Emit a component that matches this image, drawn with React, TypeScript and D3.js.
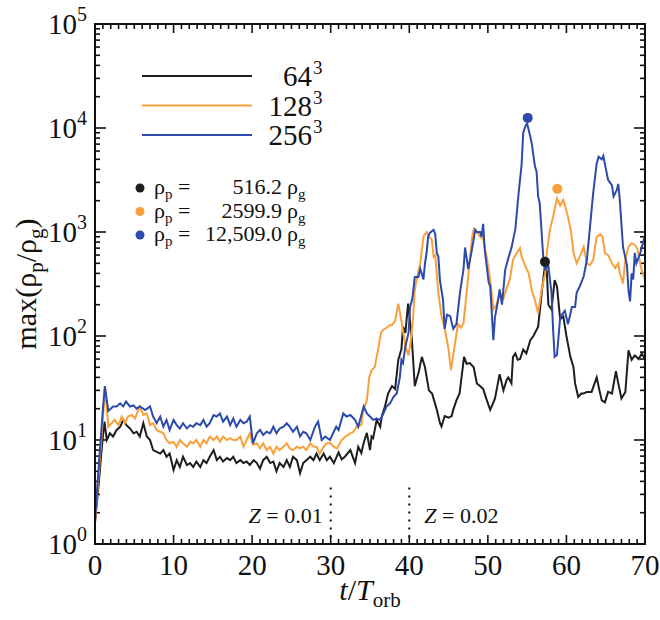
import React from 'react';
import * as d3 from 'd3';

type P = [number, number];

const xTicks = [0, 10, 20, 30, 40, 50, 60, 70];
const yExponents = [0, 1, 2, 3, 4, 5];
const resolutions = ['64', '128', '256'];
const peakTexts = ['516.2', '2599.9', '12,509.0'];
const peakTimes = [57.27, 58.84, 55.07];
const peakValues = [516.2, 2599.9, 12509.0];
const zMarks = [30, 40];
const zLabels = ['0.01', '0.02'];

const black: P[] = [[0,1.6],[0.5,4],[0.9,9],[1.2,15],[1.5,10],[1.9,11.6],[2.3,10.8],[2.75,12.5],[3.2,13.4],[3.6,15.7],[4.0,13.9],[4.45,12.9],[4.9,11.6],[5.3,12.0],[5.7,10.8],[6.15,14.5],[6.6,10.8],[7.0,10.0],[7.4,8.0],[7.85,7.7],[8.3,7.4],[8.7,8.0],[9.1,6.9],[9.5,7.4],[10.0,5.15],[10.4,6.4],[10.8,5.5],[11.2,6.9],[11.7,5.75],[12.1,6.0],[12.5,5.5],[12.9,6.2],[13.4,5.5],[13.8,6.4],[14.2,6.0],[14.6,6.9],[15.1,8.0],[15.5,6.4],[15.9,6.9],[16.3,6.2],[16.8,6.7],[17.2,6.4],[17.6,6.9],[18.0,6.0],[18.5,6.4],[18.9,6.0],[19.3,6.2],[19.7,5.75],[20.2,6.4],[20.6,6.0],[21.0,5.3],[21.4,6.4],[21.85,6.9],[22.3,6.0],[22.7,6.2],[23.1,5.0],[23.5,6.0],[24.0,5.5],[24.4,6.4],[24.8,5.5],[25.2,6.9],[25.7,6.4],[26.1,4.8],[26.5,6.0],[26.9,6.4],[27.4,6.9],[27.8,6.4],[28.2,7.4],[28.6,6.4],[29.1,7.4],[29.5,6.4],[29.9,6.9],[30.4,6.0],[31.0,7.6],[31.4,6.5],[31.8,6.9],[32.5,8.0],[33.1,6.0],[33.5,8.6],[33.9,7.5],[34.2,9.4],[34.6,11.7],[35.0,8.0],[35.2,10.8],[35.4,10.4],[35.85,15.6],[36.3,13.4],[36.5,16.8],[36.9,21],[37.3,28],[37.8,33],[38.2,31],[38.6,59],[39.0,75],[39.2,123],[39.5,107],[39.85,205],[40.3,100],[40.7,33],[41.2,45],[41.6,63],[42.0,50],[42.5,30],[42.9,28],[43.5,19.6],[43.9,14.6],[44.1,13.5],[44.5,17],[45.0,16.4],[45.4,17],[45.6,19.6],[46.0,24],[46.4,28],[46.97,63],[47.3,54],[47.7,55],[48.2,50],[48.6,35],[49.0,33],[49.4,31],[49.8,25],[50.3,19.5],[50.9,25],[51.5,43],[51.98,30],[52.4,38],[52.6,40],[53.0,35],[53.2,63],[53.5,68],[53.8,59],[54.1,60],[54.5,74],[54.9,68],[55.4,91],[55.8,100],[56.4,123],[56.9,280],[57.27,480],[57.5,420],[57.7,200],[58.1,180],[58.5,345],[58.8,300],[59.2,145],[59.6,154],[60.0,100],[60.5,63],[60.9,50],[61.1,35],[61.5,26],[61.9,28],[62.2,28],[62.6,29],[63.2,29],[63.85,40],[64.2,30],[64.5,24],[64.9,23],[65.3,29],[65.8,28],[66.3,46],[66.6,35],[67.0,25],[67.5,29],[67.9,73],[68.3,59],[68.7,65],[69.2,60],[69.6,68],[70.0,59]];

const orange: P[] = [[0,1.6],[0.5,5],[1.0,16],[1.3,31],[1.7,13.4],[2.1,14.5],[2.5,15.6],[3.0,13.9],[3.4,16.8],[3.8,14.5],[4.2,16.8],[4.7,17.4],[5.1,16.1],[5.5,19.4],[5.7,21],[6.15,17.4],[6.6,18],[7.0,13.9],[7.4,14.5],[7.85,12.5],[8.3,12.0],[8.7,11.6],[9.1,10.0],[9.5,9.3],[10.0,9.6],[10.4,8.6],[10.8,10.0],[11.2,9.3],[11.7,8.6],[12.1,9.6],[12.5,9.3],[12.9,10.0],[13.4,8.6],[13.8,10.0],[14.2,9.3],[14.6,10.8],[15.1,10.0],[15.5,10.8],[15.9,9.6],[16.3,10.8],[16.8,10.0],[17.2,10.4],[17.6,10.0],[18.0,10.0],[18.5,10.8],[18.9,8.6],[19.3,10.0],[19.7,11.6],[20.1,9.0],[20.6,9.3],[21.0,8.3],[21.4,9.3],[21.85,8.0],[22.3,8.6],[22.7,7.4],[23.1,8.6],[23.5,8.0],[24.0,8.6],[24.4,9.3],[24.8,8.3],[25.2,8.0],[25.7,8.6],[26.1,8.3],[26.5,8.6],[26.9,8.0],[27.4,9.3],[27.8,8.6],[28.2,8.6],[28.6,7.4],[29.1,8.6],[29.5,9.3],[29.9,9.4],[30.4,8.6],[30.8,8.3],[31.4,10],[31.8,10.7],[32.5,11.6],[32.9,12.0],[33.3,13.4],[33.9,13.9],[34.15,19.4],[34.6,24],[34.9,40],[35.2,47],[35.6,50],[36.1,79],[36.4,107],[36.7,115],[37.1,120],[37.5,127],[37.8,127],[38.2,140],[38.6,205],[39.0,140],[39.5,80],[39.9,65],[40.2,90],[40.5,155],[40.7,280],[41.1,400],[41.4,500],[41.8,900],[42.0,950],[42.2,1000],[42.5,900],[42.85,850],[43.1,580],[43.3,600],[43.7,260],[44.1,155],[44.5,120],[45.0,74],[45.3,47],[45.7,74],[46.2,130],[46.6,120],[46.9,133],[47.3,260],[47.7,540],[48.0,900],[48.2,1070],[48.6,1000],[49.0,900],[49.4,850],[49.85,580],[50.3,350],[50.7,180],[51.1,200],[51.5,260],[52.0,230],[52.4,290],[52.8,350],[53.2,540],[53.7,630],[54.1,700],[54.3,580],[54.7,480],[55.2,400],[55.6,275],[56.0,220],[56.4,165],[56.85,280],[57.3,400],[57.5,630],[57.9,1050],[58.3,1400],[58.8,2100],[59.2,1800],[59.6,2040],[59.9,1700],[60.2,1400],[60.6,1000],[60.9,630],[61.3,500],[61.7,580],[62.2,720],[62.6,500],[63.0,480],[63.4,540],[63.85,900],[64.3,950],[64.6,900],[64.9,630],[65.3,600],[65.8,500],[66.2,450],[66.6,500],[66.8,400],[67.2,320],[67.5,550],[67.9,720],[68.3,780],[68.7,750],[69.0,700],[69.6,420],[70.0,350]];

const blue: P[] = [[0,1.7],[0.5,6],[1.0,19.5],[1.25,33],[1.7,19],[2.3,21],[2.75,21],[3.2,22.5],[3.6,21],[3.95,23.4],[4.45,21],[4.9,21.5],[5.3,20],[5.7,21],[6.4,19.4],[7.0,21],[7.4,16.8],[7.85,14.5],[8.3,16.8],[8.7,13.4],[9.1,15.6],[9.5,12.5],[10.0,15.6],[10.4,13.9],[10.8,12.9],[11.2,14.5],[11.7,12.9],[12.1,13.9],[12.5,13.4],[12.9,14.5],[13.4,13.9],[13.8,15.6],[14.2,13.4],[14.6,14.5],[15.1,17.4],[15.5,16.8],[15.9,18.0],[16.3,15.0],[16.8,16.8],[17.2,13.9],[17.6,16.1],[18.0,13.4],[18.5,15.6],[18.9,14.5],[19.3,15.0],[19.7,16.8],[20.1,9.3],[20.6,11.6],[21.0,12.5],[21.4,11.2],[21.85,12.0],[22.3,11.6],[22.7,13.4],[23.1,11.6],[23.5,12.9],[24.0,13.4],[24.4,14.5],[24.8,13.4],[25.2,12.0],[25.7,13.4],[26.1,10.8],[26.5,12.0],[26.9,11.6],[27.4,10.0],[28.0,13.4],[28.4,15.0],[28.85,10.0],[29.3,10.8],[29.9,10],[30.3,11.6],[30.7,13.4],[31.0,12.5],[31.6,18],[32.0,16.8],[32.5,17.4],[33.1,15.6],[33.5,13.4],[34.2,21],[34.6,18],[35.0,16.8],[35.4,15.6],[35.85,16.1],[36.3,15.6],[36.7,18],[37.1,21],[37.55,22.5],[38.0,26],[38.4,28],[38.8,40],[39.0,59],[39.2,55],[39.5,79],[39.9,107],[40.1,190],[40.4,230],[40.7,370],[41.15,370],[41.4,440],[41.8,350],[42.0,500],[42.2,630],[42.4,900],[42.6,980],[43.1,1050],[43.3,950],[43.5,630],[43.7,580],[43.9,345],[44.1,275],[44.3,222],[44.5,117],[44.8,160],[45.2,155],[45.6,117],[46.0,130],[46.45,260],[46.9,440],[47.1,710],[47.5,440],[47.9,630],[48.4,1050],[48.6,1000],[49.0,1000],[49.2,900],[49.4,1200],[49.6,680],[50.1,330],[50.3,300],[50.7,91],[50.9,150],[51.3,220],[51.5,280],[51.8,200],[52.2,430],[52.6,560],[53.0,700],[53.5,1070],[53.9,2300],[54.3,4500],[54.5,9000],[54.8,10500],[55.0,11000],[55.4,8300],[55.6,7000],[56.0,4250],[56.2,3800],[56.4,2200],[56.6,1900],[57.1,500],[57.3,440],[57.7,470],[58.1,260],[58.3,117],[58.5,63],[58.8,66],[59.2,150],[59.4,160],[59.8,175],[60.2,130],[60.7,190],[61.1,190],[61.3,260],[61.7,300],[62.2,375],[62.6,540],[63.0,1120],[63.4,2350],[63.85,4570],[64.1,5300],[64.5,5000],[64.7,5400],[64.9,4500],[65.3,3170],[65.8,2800],[66.0,2200],[66.4,2520],[66.6,2900],[66.8,2000],[67.2,720],[67.7,480],[67.9,275],[68.1,215],[68.3,400],[68.5,350],[68.7,630],[68.9,500],[69.4,630],[70,930]];

const series = [black, orange, blue];
const colors = ['#1e1e1e', '#f9a03c', '#2b4aab'];

const FONT = '"Liberation Serif", "Times New Roman", serif';
const L = 95, R = 645, T = 24, B = 544;

export default function App() {
  const x = d3.scaleLinear().domain([0, 70]).range([L, R]);
  const y = d3.scaleLog().domain([1, 1e5]).range([B, T]);
  const line = d3.line<P>().x(d => x(d[0])).y(d => y(d[1]));

  const xMinor = d3.range(0, 71, 1).filter(v => v % 10 !== 0);
  const yMinor: number[] = [];
  for (let e = 0; e < 5; e++) for (let m = 2; m <= 9; m++) yMinor.push(m * Math.pow(10, e));

  const MAJ = 9, MIN = 5;

  return (
    <svg width={660} height={620} style={{ position: 'absolute', left: 0, top: 0, background: '#fff' }} fontFamily={FONT}>
      <defs>
        <clipPath id="plot"><rect x={L} y={T} width={R - L} height={B - T} /></clipPath>
      </defs>
      <rect x={0} y={0} width={660} height={620} fill="#fff" />
      {/* ticks */}
      <g stroke="#111" strokeWidth={1.6}>
        {xTicks.map(v => (
          <g key={'xt' + v}>
            <line x1={x(v)} x2={x(v)} y1={B} y2={B - MAJ} />
            <line x1={x(v)} x2={x(v)} y1={T} y2={T + MAJ} />
          </g>
        ))}
        {xMinor.map(v => (
          <g key={'xm' + v}>
            <line x1={x(v)} x2={x(v)} y1={B} y2={B - MIN} />
            <line x1={x(v)} x2={x(v)} y1={T} y2={T + MIN} />
          </g>
        ))}
        {yExponents.map(e => (
          <g key={'yt' + e}>
            <line x1={L} x2={L + MAJ + 2} y1={y(Math.pow(10, e))} y2={y(Math.pow(10, e))} />
            <line x1={R} x2={R - MAJ - 2} y1={y(Math.pow(10, e))} y2={y(Math.pow(10, e))} />
          </g>
        ))}
        {yMinor.map(v => (
          <g key={'ym' + v}>
            <line x1={L} x2={L + MIN} y1={y(v)} y2={y(v)} />
            <line x1={R} x2={R - MIN} y1={y(v)} y2={y(v)} />
          </g>
        ))}
      </g>
      {/* Z markers */}
      {zMarks.map(v => (
        <line key={'z' + v} x1={x(v)} x2={x(v)} y1={y(3.5)} y2={B} stroke="#111" strokeWidth={2} strokeDasharray="2,6" />
      ))}
      <text x={x(zMarks[0]) - 8} y={523} fontSize={22} textAnchor="end" fill="#111">
        <tspan fontStyle="italic">Z</tspan> = {zLabels[0]}
      </text>
      <text x={x(zMarks[1]) + 15} y={523} fontSize={22} textAnchor="start" fill="#111">
        <tspan fontStyle="italic">Z</tspan> = {zLabels[1]}
      </text>
      {/* data lines */}
      <g clipPath="url(#plot)" fill="none" strokeWidth={2} strokeLinejoin="miter">
        {series.map((s, i) => (
          <path key={'s' + i} d={line(s) || ''} stroke={colors[i]} />
        ))}
      </g>
      {/* peak dots */}
      {peakTimes.map((t, i) => (
        <circle key={'pk' + i} cx={x(t)} cy={y(peakValues[i])} r={5} fill={colors[i]} />
      ))}
      {/* frame */}
      <rect x={L} y={T} width={R - L} height={B - T} fill="none" stroke="#111" strokeWidth={2} />
      {/* x tick labels */}
      {xTicks.map(v => (
        <text key={'xl' + v} x={x(v)} y={575} fontSize={29} textAnchor="middle" fill="#111">{v}</text>
      ))}
      {/* y tick labels */}
      {yExponents.map(e => (
        <text key={'yl' + e} x={87} y={y(Math.pow(10, e)) + 10} fontSize={29} textAnchor="end" fill="#111">
          10<tspan fontSize={20} dy={-13}>{e}</tspan>
        </text>
      ))}
      {/* axis titles */}
      <text x={370} y={600} fontSize={30} textAnchor="middle" fill="#111">
        <tspan fontStyle="italic">t</tspan>/<tspan fontStyle="italic">T</tspan><tspan fontSize={21} dy={7}>orb</tspan>
      </text>
      <text transform={`translate(36,${(T + B) / 2}) rotate(-90)`} fontSize={30} textAnchor="middle" fill="#111">
        max(ρ<tspan fontSize={21} dy={7}>p</tspan><tspan dy={-7}>/ρ</tspan><tspan fontSize={21} dy={7}>g</tspan><tspan dy={-7}>)</tspan>
      </text>
      {/* legend lines */}
      {resolutions.map((r, i) => (
        <g key={'lg' + i}>
          <line x1={142} x2={252} y1={76 + i * 29.5} y2={76 + i * 29.5} stroke={colors[i]} strokeWidth={2} />
          <text x={312} y={76 + i * 29.5 + 10} fontSize={29} textAnchor="end" fill="#111">{r}</text>
          <text x={313} y={76 + i * 29.5 - 2} fontSize={19} fill="#111">3</text>
        </g>
      ))}
      {/* peak legend */}
      {peakTexts.map((s, i) => {
        const yy = 188 + i * 23.5;
        return (
          <g key={'pl' + i}>
            <circle cx={140} cy={yy} r={4.5} fill={colors[i]} />
            <text x={154} y={yy + 6} fontSize={22} fill="#111">
              ρ<tspan fontSize={15} dy={5}>p</tspan><tspan dy={-5}> =</tspan>
            </text>
            <text x={282} y={yy + 6} fontSize={22} textAnchor="end" fill="#111">{s}</text>
            <text x={287} y={yy + 6} fontSize={22} fill="#111">
              ρ<tspan fontSize={15} dy={5}>g</tspan>
            </text>
          </g>
        );
      })}
    </svg>
  );
}
